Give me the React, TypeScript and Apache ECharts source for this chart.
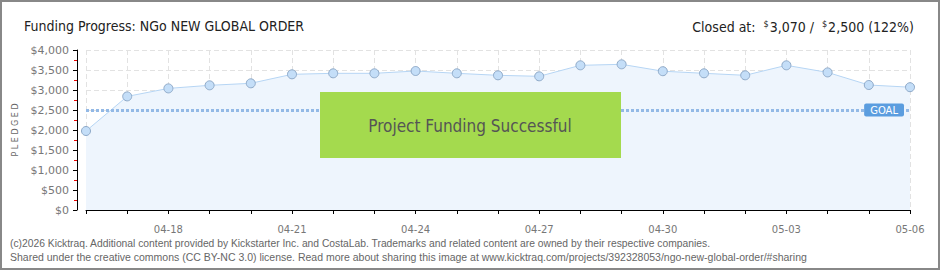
import React, { useEffect, useRef } from "react";
import * as echarts from "echarts";

const dates = [
  "04-16", "04-17", "04-18", "04-19", "04-20", "04-21", "04-22", "04-23", "04-24", "04-25", "04-26",
  "04-27", "04-28", "04-29", "04-30", "05-01", "05-02", "05-03", "05-04", "05-05", "05-06",
];
const pledged = [
  1975, 2840, 3040, 3117, 3167, 3392, 3417, 3417, 3475, 3417, 3367,
  3342, 3617, 3642, 3470, 3417, 3367, 3617, 3440, 3125, 3070,
];
const goal = 2500;
const titleText = "Funding Progress: NGo NEW GLOBAL ORDER";
const closedAt = "3,070";
const goalText = "2,500";
const percentText = "(122%)";
const footer1 =
  "(c)2026 Kicktraq. Additional content provided by Kickstarter Inc. and CostaLab. Trademarks and related content are owned by their respective companies.";
const footer2 =
  "Shared under the creative commons (CC BY-NC 3.0) license. Read more about sharing this image at www.kicktraq.com/projects/392328053/ngo-new-global-order/#sharing";

const NARROW = "'DejaVu Sans Condensed', 'Liberation Sans Narrow', sans-serif";

export default function App() {
  const ref = useRef<HTMLDivElement>(null);
  useEffect(() => {
    if (!ref.current) return;
    const chart = echarts.init(ref.current, null, { renderer: "svg" });
    chart.setOption({
      animation: false,
      backgroundColor: "#ffffff",
      title: [
        {
          text: titleText,
          left: 19,
          top: 14,
          textStyle: { fontFamily: NARROW, fontSize: 14, fontWeight: "normal", color: "#222" },
        },
        {
          text:
            "{n|Closed at:  }{s|$}{n|" + closedAt + " /  }{s|$}{n|" + goalText + " " + percentText + "}",
          right: 21,
          top: 14,
          textStyle: {
            fontWeight: "normal",
            rich: {
              n: { fontFamily: NARROW, fontSize: 14, fontWeight: "normal", color: "#222" },
              s: { fontFamily: NARROW, fontSize: 9, fontWeight: "normal", color: "#222", verticalAlign: "top", padding: [0, 1, 6, 0] },
            },
          },
        },
      ],
      grid: { left: 86, right: 30, top: 50, bottom: 60, containLabel: false },
      xAxis: {
        type: "category",
        data: dates,
        boundaryGap: false,
        offset: 10,
        axisLine: { lineStyle: { color: "#000", width: 1 } },
        axisTick: { interval: 0, length: 4, lineStyle: { color: "#000" } },
        axisLabel: {
          interval: (i: number) => i % 3 === 2,
          fontFamily: "'DejaVu Sans', sans-serif",
          fontSize: 10,
          color: "#777",
          margin: 4,
        },
        splitLine: { show: true, interval: 0, lineStyle: { color: "#e2e2e2", type: [5, 3] } },
      },
      yAxis: {
        type: "value",
        min: 0,
        max: 4000,
        interval: 500,
        offset: 9,
        name: "P L E D G E D",
        nameLocation: "middle",
        nameGap: 52,
        nameTextStyle: { fontFamily: "'DejaVu Sans', sans-serif", fontSize: 8, color: "#666" },
        axisLine: { show: true, lineStyle: { color: "#000" } },
        axisTick: { show: true, length: 4, lineStyle: { color: "#000" } },
        minorTick: { show: true, splitNumber: 2, length: 3, lineStyle: { color: "#e00" } },
        axisLabel: {
          formatter: (v: number) => "$" + v.toLocaleString("en-US"),
          fontFamily: "'DejaVu Sans', sans-serif",
          fontSize: 11,
          color: "#777",
          margin: 8,
        },
        splitLine: { show: true, lineStyle: { color: "#e2e2e2", type: [5, 3] } },
      },
      series: [
        {
          type: "line",
          data: pledged,
          symbol: "circle",
          symbolSize: 9,
          itemStyle: { color: "#c4def8", borderColor: "#8ea9c8", borderWidth: 1 },
          lineStyle: { color: "#b6d5f4", width: 1 },
          areaStyle: { color: "#eef5fd", opacity: 1 },
          markLine: {
            silent: true,
            symbol: "none",
            data: [{ yAxis: goal }],
            lineStyle: { color: "#93b9e6", width: 3, type: [3, 2] },
            label: {
              show: true,
              position: "insideEnd",
              distance: 6,
              formatter: "GOAL",
              color: "#fff",
              backgroundColor: "#5b9ddf",
              fontFamily: "'DejaVu Sans', sans-serif",
              fontSize: 10,
              padding: [2, 6, 1, 6],
              borderRadius: 2,
            },
          },
        },
      ],
      graphic: [
        {
          type: "rect",
          shape: { x: 1, y: 1, width: 938, height: 268 },
          style: { fill: "none", stroke: "#888", lineWidth: 2 },
          z: 100,
        },
        {
          type: "rect",
          shape: { x: 320, y: 92, width: 301, height: 66 },
          style: { fill: "#a4da4e" },
          z: 50,
        },
        {
          type: "text",
          x: 470,
          y: 126,
          style: {
            text: "Project Funding Successful",
            fontFamily: NARROW,
            fontSize: 17,
            fill: "#555",
            align: "center",
            verticalAlign: "middle",
            textShadowColor: "#fff",
            textShadowOffsetX: 1,
            textShadowOffsetY: 1,
          },
          z: 51,
        },
        {
          type: "text",
          x: 10,
          y: 243,
          style: {
            text: footer1,
            fontFamily: "'Liberation Sans', sans-serif",
            fontSize: 10.3,
            fill: "#666",
            verticalAlign: "middle",
          },
        },
        {
          type: "text",
          x: 10,
          y: 257,
          style: {
            text: footer2,
            fontFamily: "'Liberation Sans', sans-serif",
            fontSize: 10.5,
            fill: "#666",
            verticalAlign: "middle",
          },
        },
      ],
    });
    return () => chart.dispose();
  }, []);
  return (
    <div
      ref={ref}
      style={{ position: "fixed", left: 0, top: 0, width: 940, height: 270 }}
    />
  );
}
